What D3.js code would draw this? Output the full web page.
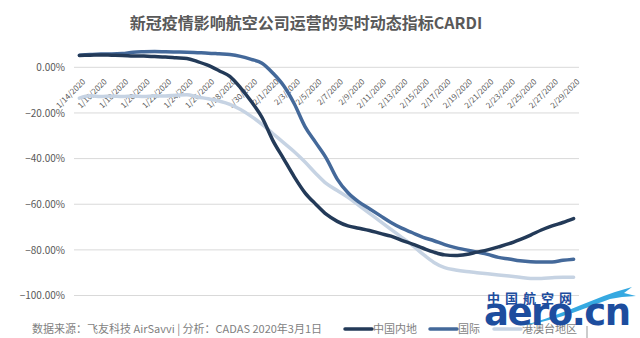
<!DOCTYPE html>
<html><head><meta charset="utf-8">
<script src="https://cdn.jsdelivr.net/npm/d3@7"></script>
<style>
html,body{margin:0;padding:0;background:#fff;}
svg{display:block;font-family:"Noto Sans CJK SC","Noto Sans",sans-serif;}
</style></head>
<body>
<svg id="chart" width="640" height="338"></svg>
<script>
const title = "新冠疫情影响航空公司运营的实时动态指标CARDI";
const source = "数据来源：飞友科技 AirSavvi | 分析：CADAS 2020年3月1日";
const categories = [
 "1/14/2020","1/15/2020","1/16/2020","1/17/2020","1/18/2020","1/19/2020","1/20/2020","1/21/2020",
 "1/22/2020","1/23/2020","1/24/2020","1/25/2020","1/26/2020","1/27/2020","1/28/2020","1/29/2020",
 "1/30/2020","1/31/2020","2/1/2020","2/2/2020","2/3/2020","2/4/2020","2/5/2020","2/6/2020",
 "2/7/2020","2/8/2020","2/9/2020","2/10/2020","2/11/2020","2/12/2020","2/13/2020","2/14/2020",
 "2/15/2020","2/16/2020","2/17/2020","2/18/2020","2/19/2020","2/20/2020","2/21/2020","2/22/2020",
 "2/23/2020","2/24/2020","2/25/2020","2/26/2020","2/27/2020","2/28/2020","2/29/2020"];
const tickLabels = [
 "1/14/2020","1/16/2020","1/18/2020","1/20/2020","1/22/2020","1/24/2020","1/26/2020","1/28/2020",
 "1/30/2020","2/1/2020","2/3/2020","2/5/2020","2/7/2020","2/9/2020","2/11/2020","2/13/2020",
 "2/15/2020","2/17/2020","2/19/2020","2/21/2020","2/23/2020","2/25/2020","2/27/2020","2/29/2020"];
const yTicks = [0,-20,-40,-60,-80,-100];
const seriesNames = ["中国内地","国际","港澳台地区"];
const mainland = [5.2,5.3,5.4,5.3,5.2,5.0,4.9,4.7,4.5,4.2,3.9,2.5,0.8,-1.5,-4.0,-9,-15,-22,-32,-40,-48,-55,-60,-64.5,
 -67.5,-69.5,-70.5,-71.5,-72.8,-74,-75.8,-77.5,-79.3,-81,-82.2,-82.5,-82,-81,-80,-78.7,-77.3,-75.5,-73.5,-71.3,-69.5,-68,-66.3];
const international = [5.3,5.6,5.8,5.8,6.0,6.6,6.8,6.9,6.8,6.7,6.6,6.4,6.2,5.9,5.6,4.8,3.5,1.8,-2.5,-8,-16,-26,-33,-40,
 -49,-55,-59,-62,-65,-68,-70.5,-72.5,-74.5,-76,-77.7,-79,-80,-81,-82,-83.3,-84,-84.8,-85.2,-85.3,-85.3,-84.6,-84.1];
const hkmotw = [-13.5,-12.5,-12.8,-12.6,-12.8,-12.6,-12.8,-12.5,-12.6,-12.2,-12.0,-13.0,-13.8,-14.8,-16.2,-18.5,-21.5,-25,-29,-33,-37,-41.5,-46.5,-51,
 -54,-57,-60.5,-64,-67.5,-71,-74.5,-78,-82,-85.5,-87.8,-88.8,-89.5,-90,-90.5,-91,-91.5,-92,-92.5,-92.5,-92.2,-92,-92];
const colors = ["#233a58","#44699a","#c6d3e3"];

const svg = d3.select("#chart");
const x = d3.scalePoint().domain(categories).range([79.4, 573.6]);
const y = d3.scaleLinear().domain([0,-100]).range([67.3, 295.5]);

svg.append("text").attr("x",306).attr("y",29).attr("text-anchor","middle")
  .attr("font-size",16).attr("font-weight","bold").attr("fill","#595959").text(title);

// grid
svg.append("g").selectAll("line").data(yTicks).join("line")
  .attr("x1",74).attr("x2",579).attr("y1",d=>y(d)).attr("y2",d=>y(d))
  .attr("stroke","#d9d9d9").attr("stroke-width",1);
// y labels
const yAxis = d3.axisLeft(y).tickValues(yTicks).tickSize(0).tickPadding(0)
  .tickFormat(d=>d3.format(".2f")(d)+"%");
const ya = svg.append("g").attr("transform","translate(65,0)").call(yAxis);
ya.select(".domain").remove();
ya.selectAll("text").attr("font-size",10).attr("fill","#595959")
  .attr("font-family","'Noto Sans CJK SC',sans-serif");

// x labels
const xAxis = d3.axisBottom(x).tickValues(tickLabels).tickSize(0).tickPadding(0);
const xa = svg.append("g").attr("transform","translate(0,67.3)").call(xAxis);
xa.select(".domain").remove();
xa.selectAll(".tick text").attr("font-size",8).attr("fill","#595959")
  .attr("font-family","'Noto Sans CJK SC',sans-serif")
  .attr("text-anchor","end").attr("dy",0).attr("y",0)
  .attr("transform","translate(6,15) rotate(-45)");

// lines
const data = [mainland, international, hkmotw];
const line = d3.line().x((d,i)=>x(categories[i])).y(d=>y(d)).curve(d3.curveMonotoneX);
[2,1,0].forEach(k=>{
  svg.append("path").datum(data[k]).attr("d",line).attr("fill","none")
    .attr("stroke",colors[k]).attr("stroke-width",3.5).attr("stroke-linecap","round").attr("stroke-linejoin","round");
});

// footer
svg.append("text").attr("x",32).attr("y",333).attr("font-size",11).attr("fill","#7f7f7f").text(source);
const legX = [345,430,494];
seriesNames.forEach((n,i)=>{
  svg.append("line").attr("x1",legX[i]).attr("x2",legX[i]+27).attr("y1",329).attr("y2",329)
    .attr("stroke",colors[i]).attr("stroke-width",3.5).attr("stroke-linecap","round");
  svg.append("text").attr("x",legX[i]+28).attr("y",333).attr("font-size",11).attr("fill","#7f7f7f").text(n);
});
svg.append("line").attr("x1",587).attr("x2",587).attr("y1",326).attr("y2",338).attr("stroke","#999").attr("stroke-width",1);

// watermark
const wm = svg.append("g");
wm.append("path").attr("d","M520,326 C555,318 585,302 615,292 L632,287 L624,293 L636,296 L622,297 L610,299 C590,306 560,320 520,326 Z")
  .attr("fill","#36a9e1");
wm.append("text").attr("x",487).attr("y",303).attr("font-size",13).attr("font-weight","bold")
  .attr("letter-spacing",5).attr("fill","#1d4d9e").text("中国航空网");
wm.append("text").attr("x",484).attr("y",325).attr("font-size",37).attr("font-weight","bold")
  .attr("font-family","'DejaVu Sans',sans-serif").attr("letter-spacing",-1.5).attr("fill","#1d4d9e").text("aero.cn");
</script>
</body></html>
